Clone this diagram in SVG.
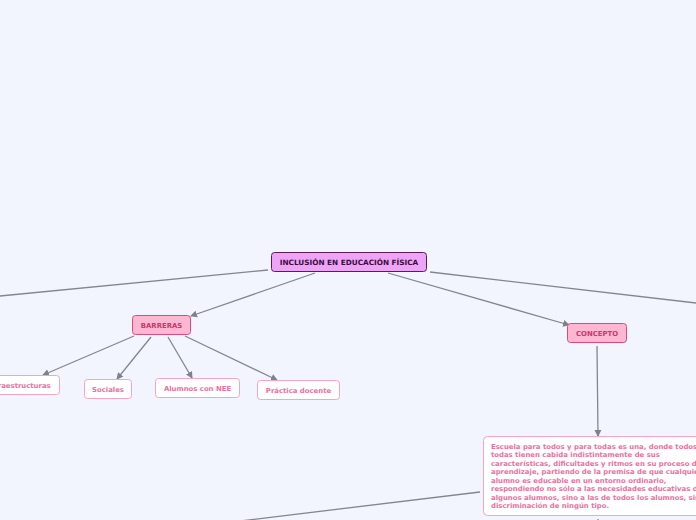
<svg xmlns="http://www.w3.org/2000/svg" width="696" height="520" viewBox="0 0 696 520">
<defs>
<marker id="arr" markerWidth="8" markerHeight="8" refX="6" refY="4" orient="auto" markerUnits="userSpaceOnUse">
<path d="M0,0.5 L7,4 L0,7.5 Z" fill="#80808c"/>
</marker>
<style>
.c{stroke:#858591;stroke-width:1.3;fill:none}
.ca{stroke:#858591;stroke-width:1.3;fill:none;marker-end:url(#arr)}
.t{font-family:"DejaVu Sans",Verdana,sans-serif;font-weight:bold;font-size:6.9px}
.leaf rect{fill:#ffffff;stroke:#f7a3c4;stroke-width:1}
.leaf text{fill:#ec6fa0;text-anchor:middle}
.sub rect{fill:#ffb6d0;stroke:#d44d7e;stroke-width:1}
.sub text{fill:#c7386d;text-anchor:middle}
</style>
</defs>
<rect width="696" height="520" fill="#f2f5fe"/>
<g id="connectors">
<line class="c" x1="268" y1="270" x2="0" y2="296"/>
<line class="ca" x1="315" y1="273" x2="191" y2="316"/>
<line class="ca" x1="388" y1="273" x2="569" y2="325"/>
<line class="c" x1="430" y1="272" x2="696" y2="303"/>
<line class="ca" x1="134" y1="336" x2="43" y2="375"/>
<line class="ca" x1="151" y1="337" x2="117" y2="379"/>
<line class="ca" x1="168" y1="337" x2="192" y2="378"/>
<line class="ca" x1="185" y1="336" x2="277" y2="380"/>
<line class="ca" x1="597" y1="346" x2="598" y2="436"/>
<line class="c" x1="480" y1="492" x2="240" y2="521"/>
<line class="c" x1="598" y1="519" x2="598" y2="521"/>
</g>
<g id="main">
<rect x="271.5" y="252.5" width="155" height="19" rx="3" fill="#efa3f7" stroke="#5c1b5f" stroke-width="1"/>
<text class="t" style="font-size:7.3px" x="349" y="264.6" text-anchor="middle" fill="#3a0d3c">INCLUSIÓN EN EDUCACIÓN FÍSICA</text>
</g>
<g id="barreras" class="sub">
<rect x="132.5" y="315.5" width="58" height="19" rx="3"/>
<text class="t" x="161.5" y="327.6">BARRERAS</text>
</g>
<g id="concepto" class="sub">
<rect x="567.5" y="323.5" width="59" height="19" rx="3"/>
<text class="t" x="597" y="335.6">CONCEPTO</text>
</g>
<g id="infraestructuras" class="leaf">
<rect x="-20.5" y="375.5" width="80" height="19" rx="3"/>
<text class="t" x="19" y="387.6">Infraestructuras</text>
</g>
<g id="sociales" class="leaf">
<rect x="84.5" y="379.5" width="47" height="19" rx="3"/>
<text class="t" x="108" y="391.6">Sociales</text>
</g>
<g id="alumnos" class="leaf">
<rect x="155.5" y="378.5" width="84" height="19" rx="3"/>
<text class="t" x="197.5" y="390.6">Alumnos con NEE</text>
</g>
<g id="practica" class="leaf">
<rect x="257.5" y="380.5" width="82" height="19" rx="3"/>
<text class="t" x="298.5" y="392.6">Práctica docente</text>
</g>
<g id="definicion" class="leaf">
<rect x="483.5" y="436.5" width="235" height="79" rx="4"/>
<text class="t" style="text-anchor:start" x="491" y="448.5">Escuela para todos y para todas es una, donde todos y<tspan x="491" dy="8.5">todas tienen cabida indistintamente de sus</tspan><tspan x="491" dy="8.5">características, dificultades y ritmos en su proceso de</tspan><tspan x="491" dy="8.5">aprendizaje, partiendo de la premisa de que cualquier</tspan><tspan x="491" dy="8.5">alumno es educable en un entorno ordinario,</tspan><tspan x="491" dy="8.5">respondiendo no sólo a las necesidades educativas de</tspan><tspan x="491" dy="8.5">algunos alumnos, sino a las de todos los alumnos, sin</tspan><tspan x="491" dy="8.5">discriminación de ningún tipo.</tspan></text>
</g>
</svg>
